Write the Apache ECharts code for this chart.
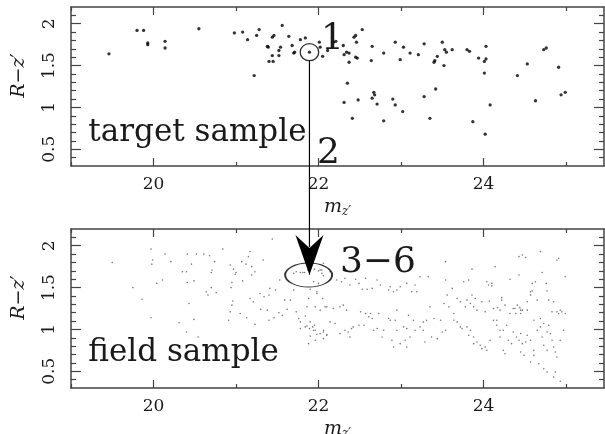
<!DOCTYPE html>
<html><head><meta charset="utf-8">
<script src="https://cdn.jsdelivr.net/npm/echarts@6/dist/echarts.min.js"></script>
<style>html,body{margin:0;padding:0;background:#fff}#c{width:605px;height:434px}</style>
</head><body><div id="c"></div>
<script>
// ---- axes ----
const xMin = 19, xMax = 25.46, yMin = 0.3, yMax = 2.2;
const xMajorTicks = [20, 22, 24];
const xMinorTicks = [19, 21, 23, 25];
const yMajorTicks = [0.5, 1, 1.5, 2];
const yMinorTicks = [0.4, 0.6, 0.7, 0.8, 0.9, 1.1, 1.2, 1.3, 1.4, 1.6, 1.7, 1.8, 1.9, 2.1];

// ---- target sample (top panel) ----
const targetX = [19.46,19.80,19.88,19.93,19.93,20.14,20.14,20.55,20.98,21.08,21.14,21.28,21.25,21.22,21.56,21.46,21.44,21.38,21.39,21.54,
  21.52,21.52,21.44,21.40,21.45,21.64,21.68,21.70,21.71,21.78,21.84,21.89,22.01,22.02,22.05,22.11,22.18,22.21,22.30,22.43,
  22.45,22.46,22.53,22.34,22.31,22.37,22.45,22.47,22.37,22.65,22.64,22.79,22.93,23.03,22.99,23.11,23.21,23.28,23.50,23.53,
  23.55,23.62,23.44,23.41,23.40,23.52,23.80,23.83,23.94,24.03,24.03,24.01,24.01,24.41,24.53,24.73,24.76,24.91,22.35,22.31,
  22.48,22.67,22.68,22.65,22.71,22.90,22.93,23.02,22.41,22.79,23.28,23.42,24.08,24.63,24.94,24.99,23.35,23.87,24.02];
const targetY = [1.64,1.92,1.92,1.77,1.75,1.79,1.71,1.94,1.89,1.90,1.81,1.93,1.86,1.38,1.98,1.86,1.84,1.73,1.72,1.72,
  1.68,1.62,1.62,1.55,1.55,1.85,1.74,1.65,1.66,1.81,1.83,1.66,1.78,1.72,1.61,1.68,1.78,1.79,1.74,1.84,
  1.86,1.78,1.93,1.66,1.63,1.65,1.60,1.59,1.54,1.73,1.56,1.65,1.78,1.72,1.57,1.65,1.63,1.76,1.78,1.69,
  1.66,1.69,1.61,1.56,1.54,1.50,1.69,1.67,1.59,1.73,1.58,1.55,1.41,1.38,1.52,1.69,1.71,1.48,1.29,1.06,
  1.09,1.18,1.15,1.11,1.04,1.10,1.03,0.95,0.87,0.84,1.13,1.22,1.03,1.08,1.15,1.18,0.87,0.83,0.68];

// ---- field sample (bottom panel) ----
const fieldPoints = [
 [19.50,1.80],[19.97,1.96],[19.99,1.83],[19.98,1.78],[20.14,1.90],[20.21,1.81],[20.04,1.55],[20.11,1.59],[19.75,1.50],[19.86,1.36],
 [19.97,1.14],[20.41,1.90],[20.52,1.90],[20.61,1.90],[20.68,1.88],[20.46,1.78],[20.35,1.69],[20.40,1.69],[20.49,1.58],[20.41,1.56],
 [20.74,1.81],[20.71,1.71],[20.70,1.68],[20.84,1.96],[20.93,1.77],[20.97,1.72],[20.99,1.66],[21.00,1.68],[21.07,1.81],[21.12,1.78],
 [21.17,1.93],[21.15,1.87],[21.19,1.75],[21.23,1.69],[21.19,1.65],[21.08,1.58],[21.33,1.83],[21.44,2.08],[20.70,1.50],[20.66,1.41],
 [20.64,1.45],[20.76,1.44],[20.95,1.56],[20.94,1.50],[20.43,1.31],[20.49,1.12],[20.31,1.08],[20.40,0.97],[20.54,0.91],[20.96,1.34],
 [20.95,1.29],[20.93,1.21],[21.05,1.19],[21.17,1.37],[21.21,1.33],[21.29,1.43],[21.34,1.39],[21.40,1.41],[21.41,1.49],[21.23,1.06],
 [21.13,1.14],[20.91,1.11],[21.38,1.23],[21.30,1.24],[21.48,1.47],[21.53,1.59],[21.59,1.35],[21.62,1.24],[21.66,1.35],[21.56,1.17],
 [21.52,1.20],[21.70,1.47],[21.73,1.21],[21.76,1.13],[21.78,1.09],[21.84,1.16],[21.86,1.04],[21.89,1.01],[21.93,1.03],[21.94,0.99],
 [21.98,0.94],[21.96,0.87],[21.88,0.83],[21.90,0.92],[22.06,0.97],[22.06,0.89],[22.10,0.94],[21.88,1.37],[21.98,1.43],[22.05,1.37],
 [22.10,1.27],[21.70,1.67],[21.73,1.69],[21.78,1.68],[21.83,1.68],[21.89,1.66],[21.95,1.72],[22.00,1.70],[22.04,1.71],[22.06,1.64],
 [21.94,1.57],[22.00,1.55],[21.90,1.48],[21.98,1.45],[21.40,1.11],[21.46,1.14],
 [21.81,1.68],[21.87,1.71],[21.90,1.75],[22.02,1.71],[22.04,1.67],[22.14,1.69],[22.06,1.79],
 [22.22,1.59],[22.28,1.57],[22.32,1.61],[22.38,1.53],[22.45,1.60],[22.49,1.55],[22.53,1.48],[22.59,1.48],[22.57,1.61],[22.65,1.49],
 [22.71,1.59],[22.75,1.53],[22.85,1.47],[22.87,1.51],[22.91,1.45],[22.95,1.47],[22.99,1.51],[23.07,1.55],[23.17,1.53],[23.19,1.45],
 [23.13,1.45],[23.23,1.63],[23.33,1.63],[23.54,1.81],[23.54,1.59],[23.62,1.49],[23.56,1.41],[23.68,1.37],[23.72,1.33],[23.76,1.57],
 [23.82,1.59],[23.86,1.72],[23.90,1.37],[23.84,1.31],[23.88,1.27],[23.86,1.41],[23.80,1.35],[23.98,1.33],[24.04,1.57],[24.06,1.53],
 [24.10,1.55],[24.14,1.75],[24.22,1.35],[24.26,1.29],[24.32,1.60],[24.43,1.87],[24.47,1.89],[24.51,1.86],[24.43,1.65],[24.41,1.29],
 [24.45,1.23],[24.57,1.41],[24.57,1.45],[24.59,1.55],[24.63,1.57],[24.65,1.35],[24.69,1.93],[24.71,1.68],[24.76,1.55],[24.79,1.35],
 [24.85,1.33],[24.89,1.83],[24.91,1.85],[24.99,1.63],[24.89,1.21],[24.95,1.21],[24.99,1.19],
 [21.86,1.27],[21.96,1.27],[22.02,1.23],[22.08,1.27],[22.18,1.25],[22.26,1.27],[22.30,1.29],[22.34,1.23],[22.51,1.21],[22.57,1.19],
 [22.63,1.19],[22.73,1.19],[22.87,1.11],[22.95,1.23],[23.09,1.17],[23.15,1.11],[23.27,1.09],[23.35,1.27],[23.40,1.13],[23.52,1.31],
 [23.58,1.27],[23.64,1.19],[23.78,1.27],[23.92,1.23],[24.02,1.21],[24.12,1.25],[24.16,1.11],[24.20,1.23],[24.32,1.19],[24.38,1.25],
 [24.45,1.19],[24.53,1.23],[24.61,1.11],[24.69,1.13],[24.73,1.07],[24.83,1.21],
 [21.78,1.01],[21.84,1.03],[21.90,1.09],[21.95,1.05],[21.96,0.99],[22.02,0.95],[22.06,0.99],[22.10,0.93],[22.14,1.09],[22.20,1.07],
 [22.26,0.95],[22.32,0.99],[22.36,0.97],[22.40,1.01],[22.38,0.91],[22.42,1.03],[22.49,1.05],[22.55,1.05],[22.61,1.15],[22.65,1.13],
 [22.67,0.99],[22.71,1.01],[22.77,0.91],[22.79,0.99],[22.85,1.13],[22.89,0.87],[22.91,0.79],[22.93,1.11],[22.95,0.99],[22.99,0.83],
 [23.03,1.03],[23.05,0.87],[23.07,1.01],[23.07,0.79],[23.11,0.91],[23.17,0.99],[23.23,1.03],[23.27,0.99],[23.31,1.11],[23.29,0.85],
 [23.37,0.91],[23.44,0.89],[23.50,0.97],[23.54,0.99],[23.48,1.11],[23.64,1.11],[23.68,1.09],[23.72,1.03],[23.74,1.01],[23.80,1.03],
 [23.82,0.93],[23.84,0.99],[23.88,0.91],[23.88,0.83],[23.92,0.85],[23.96,0.81],[23.98,0.77],[24.02,0.79],[24.04,0.75],[24.08,0.87],
 [24.12,1.11],[24.16,1.05],[24.20,0.99],[24.20,0.91],[24.24,0.99],[24.28,1.05],[24.30,0.87],[24.34,0.83],[24.36,0.97],[24.40,0.91],
 [24.43,0.87],[24.45,0.95],[24.47,0.83],[24.51,0.85],[24.53,0.93],[24.57,0.87],[24.61,0.75],[24.65,0.99],[24.69,1.03],[24.71,0.91],
 [24.73,0.81],[24.77,0.97],[24.79,1.05],[24.81,0.95],[24.83,0.87],[24.85,0.79],[24.87,0.73],[24.89,0.67],[24.93,0.87],[24.97,0.99],
 [24.24,0.75],[24.26,0.71],[24.45,0.73],[24.49,0.69],[24.57,0.61],[24.67,0.59],[24.73,0.53],[24.77,0.49],[24.87,0.49],[24.61,0.69],
 [24.77,0.75],[24.93,0.38],[24.85,0.43],
 [24.10,1.52],[24.59,1.46],[24.77,1.46],[24.07,1.34],[24.22,1.38],[24.17,1.26],[24.36,1.25],[24.44,1.26],[24.47,1.23],[24.39,1.19],
 [24.53,1.33],[24.93,1.23],[24.91,1.19]
];

// ---- annotations (data coordinates) ----
const targetCircle = [21.89, 1.66];
const fieldEllipse = [21.88, 1.65];
const arrowTip = [21.89, 1.65];
const labelOne = [22.17, 1.81];
const labelTwo = [22.12, 0.45];
const labelThreeSix = [22.72, 1.80];
const textTarget = [19.21, 0.69];
const textField = [19.21, 0.72];

const serif = 'DejaVu Serif';
const lineCol = '#444';
const txtCol = '#1a1a1a';

function xAxes(g) {
  const base = { gridIndex: g, type: 'value', min: xMin, max: xMax, splitLine: { show: false } };
  return [
    Object.assign({}, base, {
      position: 'bottom',
      axisLine: { show: true, lineStyle: { color: lineCol, width: 1.5 } },
      axisTick: { show: true, inside: true, length: 8, customValues: xMajorTicks, lineStyle: { color: lineCol, width: 1.2 } },
      axisLabel: { show: true, customValues: xMajorTicks, margin: 10, fontFamily: serif, fontSize: 17, color: txtCol },
      name: '{i|m}{s|z′}', nameLocation: 'middle', nameGap: 30,
      nameTextStyle: { rich: { i: { fontFamily: serif, fontStyle: 'italic', fontSize: 19, color: txtCol },
                               s: { fontFamily: serif, fontStyle: 'italic', fontSize: 12, color: txtCol, verticalAlign: 'bottom', padding: [10, 0, 0, 0] } } }
    }),
    Object.assign({}, base, {
      position: 'bottom', axisLine: { show: false },
      axisTick: { show: true, inside: true, length: 4, customValues: xMinorTicks, lineStyle: { color: lineCol, width: 1.2 } },
      axisLabel: { show: false }
    }),
    Object.assign({}, base, {
      position: 'top',
      axisLine: { show: true, lineStyle: { color: lineCol, width: 1.5 } },
      axisTick: { show: true, inside: true, length: 8, customValues: xMajorTicks, lineStyle: { color: lineCol, width: 1.2 } },
      axisLabel: { show: false }
    }),
    Object.assign({}, base, {
      position: 'top', axisLine: { show: false },
      axisTick: { show: true, inside: true, length: 4, customValues: xMinorTicks, lineStyle: { color: lineCol, width: 1.2 } },
      axisLabel: { show: false }
    })
  ];
}
function yAxes(g) {
  const base = { gridIndex: g, type: 'value', min: yMin, max: yMax, splitLine: { show: false } };
  return [
    Object.assign({}, base, {
      position: 'left',
      axisLine: { show: true, lineStyle: { color: lineCol, width: 1.5 } },
      axisTick: { show: true, inside: true, length: 10, customValues: yMajorTicks, lineStyle: { color: lineCol, width: 1.2 } },
      axisLabel: { show: true, customValues: yMajorTicks, rotate: 90, margin: 13, fontFamily: serif, fontSize: 17, color: txtCol },
      name: '{i|R}{n|−}{i|z}{n|′}', nameLocation: 'middle', nameRotate: 90, nameGap: 42,
      nameTextStyle: { padding: [0, 0, 0, 22], rich: { i: { fontFamily: serif, fontStyle: 'italic', fontSize: 19, color: txtCol },
                                n: { fontFamily: serif, fontSize: 19, color: txtCol } } }
    }),
    Object.assign({}, base, {
      position: 'left', axisLine: { show: false },
      axisTick: { show: true, inside: true, length: 5, customValues: yMinorTicks, lineStyle: { color: lineCol, width: 1.2 } },
      axisLabel: { show: false }
    }),
    Object.assign({}, base, {
      position: 'right',
      axisLine: { show: true, lineStyle: { color: lineCol, width: 1.5 } },
      axisTick: { show: true, inside: true, length: 10, customValues: yMajorTicks, lineStyle: { color: lineCol, width: 1.2 } },
      axisLabel: { show: false }
    }),
    Object.assign({}, base, {
      position: 'right', axisLine: { show: false },
      axisTick: { show: true, inside: true, length: 5, customValues: yMinorTicks, lineStyle: { color: lineCol, width: 1.2 } },
      axisLabel: { show: false }
    })
  ];
}

const chart = echarts.init(document.getElementById('c'), null, { renderer: 'canvas' });
const targetData = targetX.map((x, i) => [x, targetY[i]]);

chart.setOption({
  animation: false,
  backgroundColor: '#fff',
  grid: [
    { left: 71, right: 1, top: 7, height: 159, outerBoundsMode: 'none' },
    { left: 71, right: 1, top: 229, height: 159, outerBoundsMode: 'none' }
  ],
  xAxis: xAxes(0).concat(xAxes(1)),
  yAxis: yAxes(0).concat(yAxes(1)),
  series: [
    { type: 'scatter', xAxisIndex: 0, yAxisIndex: 0, data: targetData, symbolSize: 3.3,
      itemStyle: { color: '#000' } },
    { type: 'scatter', xAxisIndex: 0, yAxisIndex: 0, data: [targetCircle], symbol: 'circle', symbolSize: [18.5, 17],
      itemStyle: { color: 'rgba(0,0,0,0)', borderColor: '#000', borderWidth: 1.3 }, z: 3 },
    { type: 'scatter', xAxisIndex: 4, yAxisIndex: 4, data: fieldPoints, symbolSize: 1.6,
      itemStyle: { color: '#555' } },
    { type: 'scatter', xAxisIndex: 4, yAxisIndex: 4, data: [fieldEllipse], symbol: 'circle', symbolSize: [47, 24],
      itemStyle: { color: 'rgba(0,0,0,0)', borderColor: '#000', borderWidth: 1.4 }, z: 3 }
  ]
});

function toPx(g, p) { return chart.convertToPixel({ xAxisIndex: g * 4, yAxisIndex: g * 4 }, p); }
const c0 = toPx(0, targetCircle);
const tip = toPx(1, arrowTip);
const l1 = toPx(0, labelOne), l2 = toPx(0, labelTwo), l36 = toPx(1, labelThreeSix);
const tT = toPx(0, textTarget), tF = toPx(1, textField);
function txt(p, s, size, align) {
  return { type: 'text', x: p[0], y: p[1], z: 10,
    style: { text: s, fontFamily: serif, fontSize: size, fill: txtCol, align: align || 'center', verticalAlign: 'middle' } };
}
chart.setOption({
  graphic: [
    { type: 'line', z: 5, shape: { x1: c0[0], y1: c0[1] + 8.5, x2: tip[0], y2: tip[1] - 28 },
      style: { stroke: '#000', lineWidth: 1.2 } },
    { type: 'polygon', z: 6, shape: { points: [[tip[0], tip[1]], [tip[0] - 14, tip[1] - 40], [tip[0], tip[1] - 27], [tip[0] + 14, tip[1] - 40]] },
      style: { fill: '#000' } },
    txt(l1, '1', 36), txt(l2, '2', 36), txt(l36, '3−6', 36),
    txt(tT, 'target sample', 31, 'left'), txt(tF, 'field sample', 31, 'left')
  ]
});
</script></body></html>
